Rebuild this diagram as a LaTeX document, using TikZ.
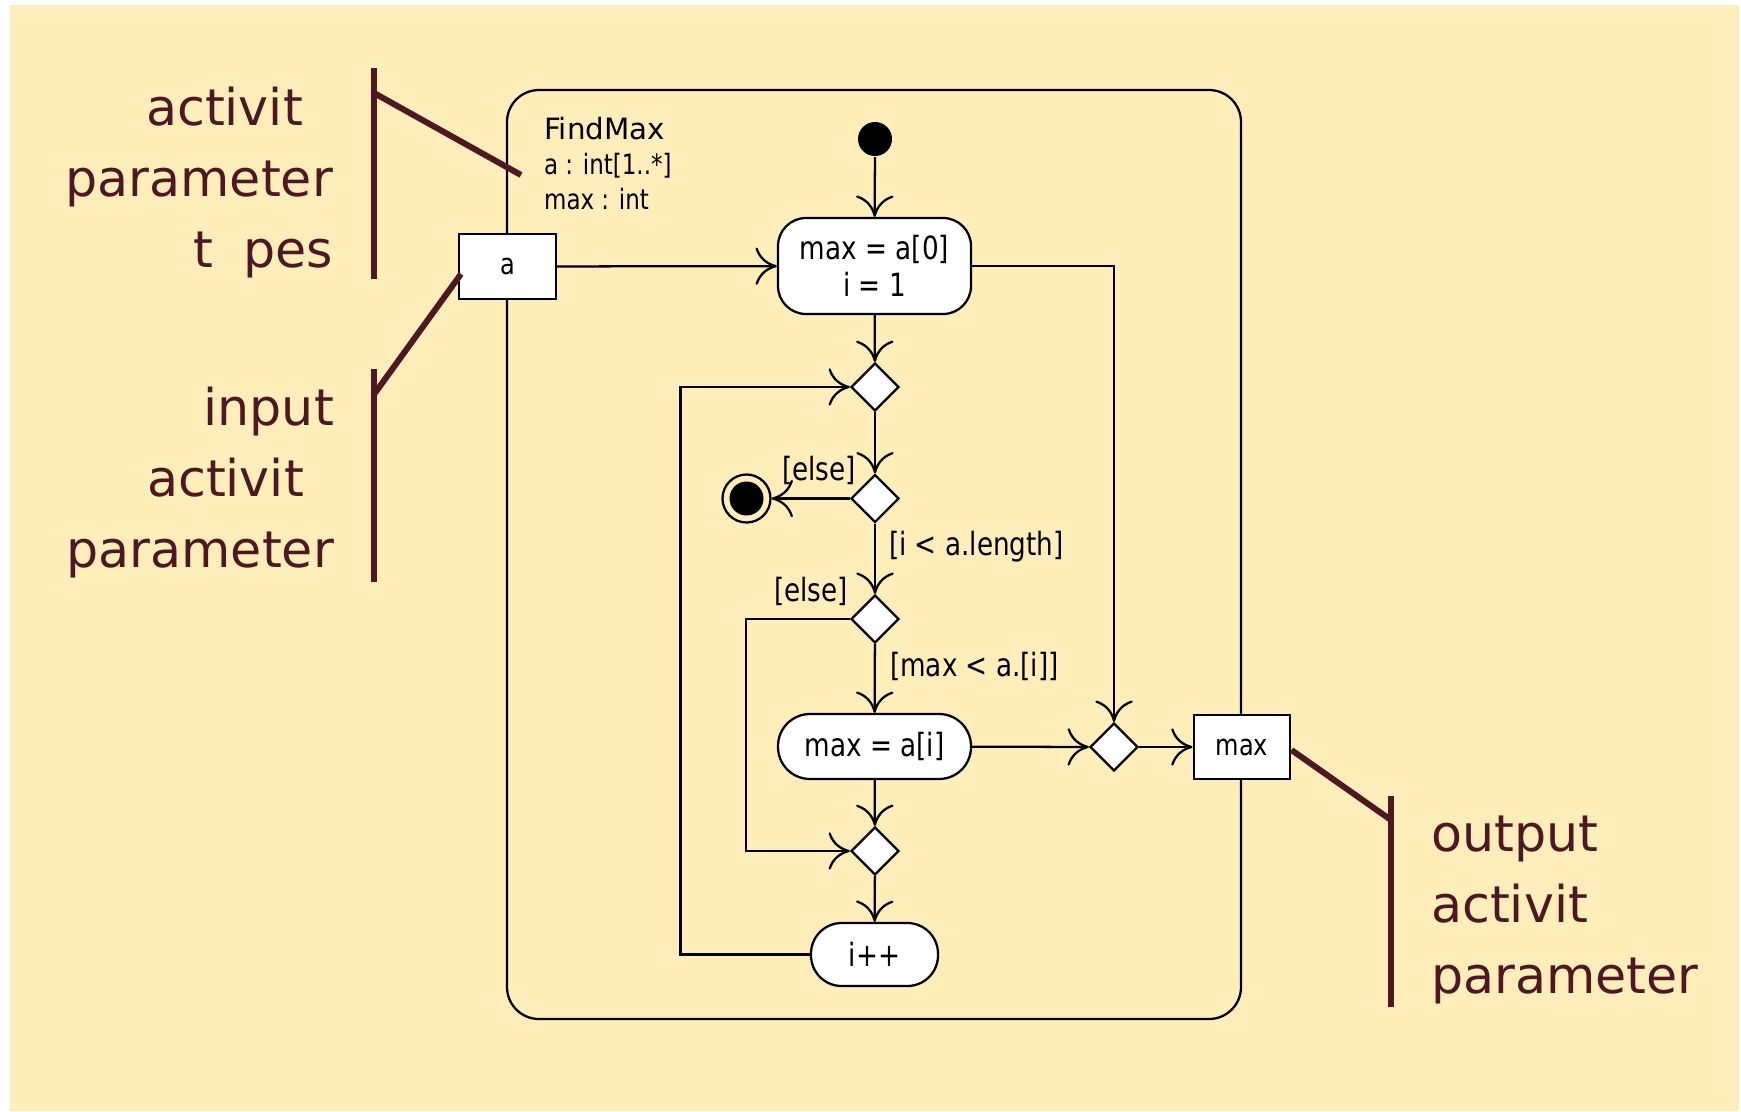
\documentclass[tikz,border=0pt]{standalone}
\usepackage{fontspec}
\setmainfont{DejaVu Sans}
\newfontfamily\estreita{DejaVu Sans}[FakeStretch=0.82]
\usetikzlibrary{arrows.meta,shapes.geometric}
\definecolor{fundo}{RGB}{255,238,186}
\definecolor{vinho}{RGB}{78,24,34}

\begin{document}
\begin{tikzpicture}[
    x=0.75pt, y=-0.75pt,
    line width=1.7pt,
    every node/.style={inner sep=0pt, font=\estreita\fontsize{24}{27.75}\selectfont},
    acao/.style={draw, fill=white, align=center, rounded corners=#1},
    pino/.style={draw, fill=white, minimum width=72.5pt, minimum height=48.5pt,
        font=\estreita\fontsize{22}{26}\selectfont},
    decisao/.style={draw, fill=white, diamond, aspect=1,
        minimum width=36pt, minimum height=36pt},
    seta/.style={-{Computer Modern Rightarrow[length=16pt, width=28pt]}},
    marca/.style={draw=vinho, line width=4.5pt},
    rotulo/.style={text=vinho, font=\fontsize{38}{53.25}\selectfont}
]

% Fundo
\useasboundingbox (0,0) rectangle (1741,1111);
\fill[white] (0,0) rectangle (1741,1111);
\fill[fundo] (10,5) rectangle (1739,1111);

% A atividade FindMax
\draw[rounded corners=24pt] (507,90) rectangle (1241,1019);
\node[anchor=base west, font=\fontsize{22}{26}\selectfont] (nome) at (543,139) {FindMax};
\node[anchor=base west, align=left, font=\estreita\fontsize{21}{26.25}\selectfont]
    (params) at (543,209) {a : int[1..*]\\max : int};

% Nos de controle e acoes
\node[circle, fill=black, minimum size=25.5pt] (inicio) at (875,139) {};
\node[acao=21pt, minimum width=144.75pt, minimum height=72pt] (acao1) at (874.5,266)
    {max = a[0]\\i = 1};
\node[decisao] (dec1) at (875,387) {};
\node[decisao] (dec2) at (875,498.5) {};
\node[circle, draw, minimum size=36pt] (fim) at (746.5,498.5) {};
\fill (fim) circle[radius=12.75pt];
\node[decisao] (dec3) at (875,619) {};
\node[acao=24pt, minimum width=144.75pt, minimum height=48.75pt] (acao2) at (874.5,746.5)
    {max = a[i]};
\node[decisao] (dec4) at (875,851) {};
\node[acao=23pt, minimum width=95.25pt, minimum height=47.25pt] (incr) at (874.5,954.5)
    {i++};
\node[decisao] (juncao) at (1114,747) {};

% Parametros
\node[pino] (pinoA) at (507.5,266.5) {a};
\node[pino] (pinoMax) at (1242,747) {max};

% Fluxos
\draw[seta] (inicio) -- (acao1);
\draw[seta] (pinoA) -- (acao1);
\draw[seta] (acao1.east) -| (juncao.north);
\draw[seta] (acao1) -- (dec1);
\draw[seta] (dec1) -- (dec2);
\draw[seta] (dec2) -- (fim);
\draw[seta] (dec2) -- (dec3);
\draw[seta] (dec3) -- (acao2);
\draw[seta] (dec3.west) -- ++(-104,0) |- (dec4.west);
\draw[seta] (acao2) -- (dec4);
\draw[seta] (dec4) -- (incr);
\draw[seta] (incr.west) -- ++(-129.5,0) |- (dec1.west);
\draw[seta] (acao2) -- (juncao);
\draw[seta] (juncao) -- (pinoMax);

% Guardas
\node[anchor=base east] (senao1) at (857,480) {[else]};
\node[anchor=base west] (guarda1) at (888,555) {[i < a.length]};
\node[anchor=base east] (senao2) at (849,601) {[else]};
\node[anchor=base west] (guarda2) at (889,676) {[max < a.[i]]};

% Legendas
\coordinate (tipos) at (521,175);
\coordinate (entrada) at (461,274);
\draw[marca] (374,68) -- (374,279);
\draw[marca] (374,93) -- (tipos);
\node[rotulo, anchor=base east, align=right] (leg1) at (334,267)
    {activit\phantom{y}\\parameter\\t\phantom{y}pes};

\draw[marca] (374,369) -- (374,582);
\draw[marca] (375,393) -- (entrada);
\node[rotulo, anchor=base east, align=right] (leg2) at (335,567)
    {input\\activit\phantom{y}\\parameter};

\draw[marca] (pinoMax.east) ++(0,3) -- (1391,820);
\draw[marca] (1391,796) -- (1391,1007);
\node[rotulo, anchor=base west, align=left] (leg3) at (1430,993)
    {output\\activit\phantom{y}\\parameter};

\end{tikzpicture}
\end{document}
